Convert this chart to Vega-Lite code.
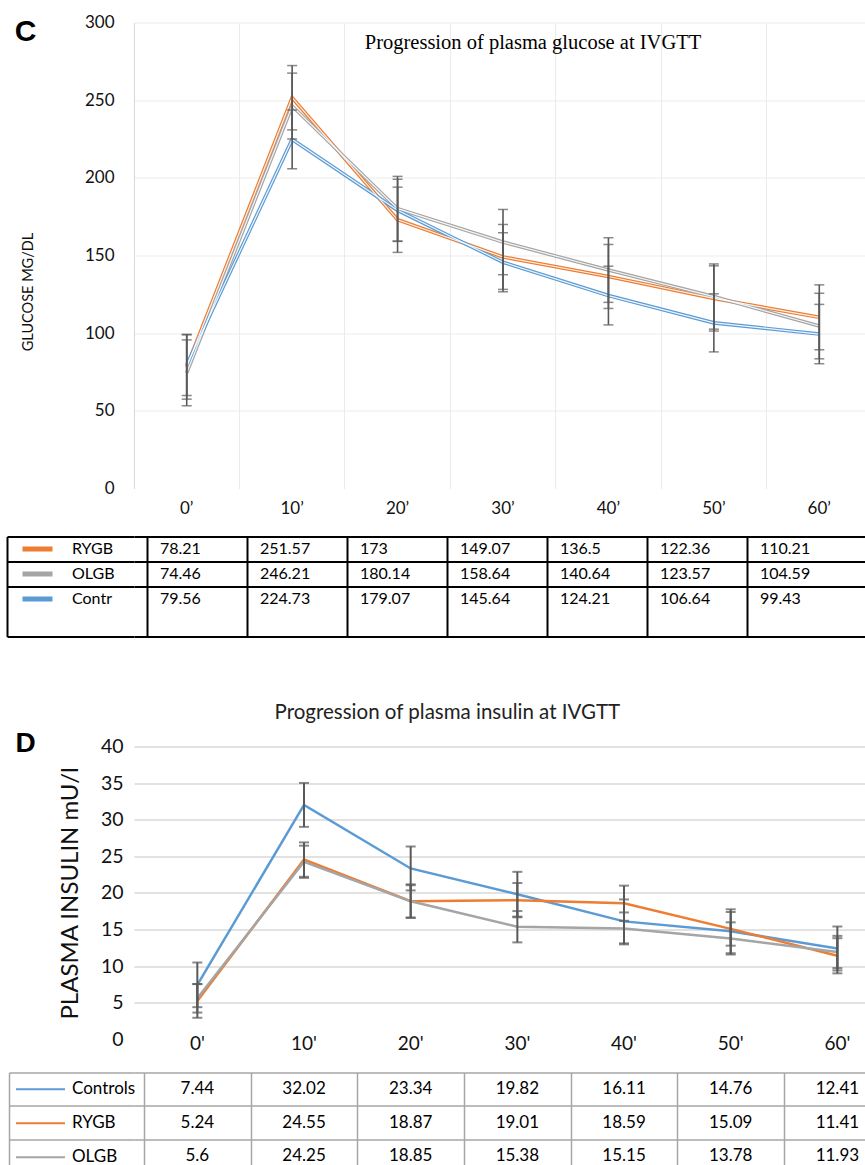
{
  "$schema": "https://vega.github.io/schema/vega-lite/v6.json",
  "background": "white",
  "padding": {"left": 6, "top": 13.5, "right": 0, "bottom": 0},
  "config": {
    "font": "Lato",
    "view": {"stroke": null},
    "axis": {"labelFont": "Lato", "titleFont": "Lato", "labelColor": "#111111", "titleColor": "#111111", "titleFontWeight": "normal"},
    "legend": {"labelFont": "Lato"},
    "title": {"font": "Lato", "fontWeight": "normal"}
  },
  "datasets": {
    "glu": [
      {"t": "0’", "group": "RYGB", "mean": 78.21, "err": 20.7},
      {"t": "10’", "group": "RYGB", "mean": 251.57, "err": 20.7},
      {"t": "20’", "group": "RYGB", "mean": 173, "err": 21},
      {"t": "30’", "group": "RYGB", "mean": 149.07, "err": 20.9},
      {"t": "40’", "group": "RYGB", "mean": 136.5, "err": 20.6},
      {"t": "50’", "group": "RYGB", "mean": 122.36, "err": 21},
      {"t": "60’", "group": "RYGB", "mean": 110.21, "err": 20.9},
      {"t": "0’", "group": "OLGB", "mean": 74.46, "err": 21.2},
      {"t": "10’", "group": "OLGB", "mean": 246.21, "err": 21.2},
      {"t": "20’", "group": "OLGB", "mean": 180.14, "err": 20.8},
      {"t": "30’", "group": "OLGB", "mean": 158.64, "err": 21},
      {"t": "40’", "group": "OLGB", "mean": 140.64, "err": 20.8},
      {"t": "50’", "group": "OLGB", "mean": 123.57, "err": 21},
      {"t": "60’", "group": "OLGB", "mean": 104.59, "err": 21.1},
      {"t": "0’", "group": "Contr", "mean": 79.56, "err": 19.7},
      {"t": "10’", "group": "Contr", "mean": 224.73, "err": 18.9},
      {"t": "20’", "group": "Contr", "mean": 179.07, "err": 20},
      {"t": "30’", "group": "Contr", "mean": 145.64, "err": 19},
      {"t": "40’", "group": "Contr", "mean": 124.21, "err": 18.9},
      {"t": "50’", "group": "Contr", "mean": 106.64, "err": 18.7},
      {"t": "60’", "group": "Contr", "mean": 99.43, "err": 19.1}
    ],
    "ins": [
      {"t": "0'", "group": "Controls", "mean": 7.44, "err": 3.05},
      {"t": "10'", "group": "Controls", "mean": 32.02, "err": 3.0},
      {"t": "20'", "group": "Controls", "mean": 23.34, "err": 3.0},
      {"t": "30'", "group": "Controls", "mean": 19.82, "err": 3.06},
      {"t": "40'", "group": "Controls", "mean": 16.11, "err": 3.0},
      {"t": "50'", "group": "Controls", "mean": 14.76, "err": 3.0},
      {"t": "60'", "group": "Controls", "mean": 12.41, "err": 3.0},
      {"t": "0'", "group": "RYGB", "mean": 5.24, "err": 2.3},
      {"t": "10'", "group": "RYGB", "mean": 24.55, "err": 2.35},
      {"t": "20'", "group": "RYGB", "mean": 18.87, "err": 2.3},
      {"t": "30'", "group": "RYGB", "mean": 19.01, "err": 2.34},
      {"t": "40'", "group": "RYGB", "mean": 18.59, "err": 2.4},
      {"t": "50'", "group": "RYGB", "mean": 15.09, "err": 2.3},
      {"t": "60'", "group": "RYGB", "mean": 11.41, "err": 2.4},
      {"t": "0'", "group": "OLGB", "mean": 5.6, "err": 1.95},
      {"t": "10'", "group": "OLGB", "mean": 24.25, "err": 2.2},
      {"t": "20'", "group": "OLGB", "mean": 18.85, "err": 2.2},
      {"t": "30'", "group": "OLGB", "mean": 15.38, "err": 2.14},
      {"t": "40'", "group": "OLGB", "mean": 15.15, "err": 2.18},
      {"t": "50'", "group": "OLGB", "mean": 13.78, "err": 2.2},
      {"t": "60'", "group": "OLGB", "mean": 11.93, "err": 2.2}
    ]
  },
  "resolve": {"scale": {"color": "independent"}, "legend": {"color": "independent"}},
  "spacing": 65,
  "vconcat": [
    {
      "spacing": 19,
      "resolve": {"scale": {"color": "independent"}, "legend": {"color": "independent"}},
      "vconcat": [
        {
          "width": 738,
          "height": 466,
          "data": {"name": "glu"},
          "title": {"text": "Progression of plasma glucose at IVGTT", "frame": "group", "anchor": "middle", "dx": 30, "offset": -56, "baseline": "alphabetic", "font": "Liberation Serif", "fontSize": 20.5, "fontWeight": "normal", "color": "#000000"},
          "resolve": {"axis": {"y": "independent"}},
          "layer": [
            {
              "mark": {"type": "line", "strokeWidth": 3.6},
              "encoding": {
                "x": {"field": "t", "type": "nominal", "scale": {"type": "band", "domain": ["0’", "10’", "20’", "30’", "40’", "50’", "60’"], "paddingInner": 0, "paddingOuter": 0},
                  "axis": {"title": null, "orient": "bottom", "domain": false, "ticks": false, "grid": true, "gridColor": "#ebebeb", "gridWidth": 1, "bandPosition": 0, "labelAngle": 0, "labelFont": "Lato", "labelFontSize": 17, "labelColor": "#111111", "labelPadding": 12}},
                "y": {"field": "mean", "type": "quantitative", "scale": {"domain": [0, 300], "nice": false},
                  "axis": {"title": "GLUCOSE MG/DL", "values": [0, 50, 100, 150, 200, 250, 300], "grid": true, "gridColor": "#ebebeb", "gridWidth": 1,
                    "gridOpacity": {"condition": {"test": "datum.value === 0", "value": 0}, "value": 1},
                    "domain": true, "domainColor": "#d9d9d9", "domainWidth": 1, "ticks": false,
                    "labelFont": "Lato", "labelFontSize": 17, "labelColor": "#111111", "labelPadding": 20,
                    "titleFont": "Lato", "titleFontSize": 14.5, "titleFontWeight": "normal", "titleColor": "#111111", "titlePadding": 49, "titleY": 269}},
                "color": {"field": "group", "type": "nominal", "scale": {"domain": ["RYGB", "OLGB", "Contr"], "range": ["#ED7D31", "#A5A5A5", "#5B9BD5"]}, "legend": null}
              }
            },
            {
              "mark": {"type": "line", "strokeWidth": 1.2, "color": "#ffffff", "opacity": 0.9},
              "encoding": {
                "x": {"field": "t", "type": "nominal"},
                "y": {"field": "mean", "type": "quantitative", "axis": null},
                "detail": {"field": "group"}
              }
            },
            {
              "mark": {"type": "errorbar", "color": "#595959", "ticks": {"size": 10, "thickness": 1.5}, "rule": {"strokeWidth": 1.6}},
              "encoding": {
                "x": {"field": "t", "type": "nominal"},
                "y": {"field": "mean", "type": "quantitative", "axis": null},
                "yError": {"field": "err"},
                "detail": {"field": "group"}
              }
            },
            {
              "mark": {"type": "point", "size": 0, "opacity": 0},
              "encoding": {
                "x": {"field": "t", "type": "nominal"},
                "y": {"field": "mean", "type": "quantitative",
                  "axis": {"title": "C", "orient": "left", "labels": false, "grid": false, "domain": false, "ticks": false,
                    "titleAngle": 0, "titleAlign": "center", "titleBaseline": "middle", "titleX": -109, "titleY": 9,
                    "titleFont": "Liberation Sans", "titleFontSize": 30, "titleFontWeight": "bold", "titleColor": "#000000"}}
              }
            }
          ]
        },
        {
          "width": 744,
          "height": 100,
          "data": {"name": "glu"},
          "layer": [
            {
              "mark": {"type": "text", "align": "left", "baseline": "middle", "dx": 12, "font": "Lato", "fontSize": 16, "color": "#000000"},
              "encoding": {
                "x": {"field": "t", "type": "nominal", "bandPosition": 0,
                  "scale": {"type": "band", "domain": ["0’", "10’", "20’", "30’", "40’", "50’", "60’"], "paddingInner": 0, "paddingOuter": 0.22, "align": 0.318},
                  "axis": {"orient": "top", "title": null, "labels": false, "ticks": false, "domain": false, "grid": true, "gridColor": "#000000", "gridWidth": 2, "bandPosition": 0, "values": ["0’", "10’", "20’", "30’", "40’", "50’", "60’"]}},
                "y": {"field": "group", "type": "nominal",
                  "scale": {"type": "band", "domain": ["RYGB", "OLGB", "Contr", "_"], "paddingInner": 0, "paddingOuter": 0},
                  "axis": {"orient": "left", "title": null, "labels": false, "offset": 127, "domain": true, "domainColor": "#000000", "domainWidth": 2,
                    "ticks": true, "tickColor": "#000000", "tickWidth": 2, "tickSize": -127, "tickBand": "extent",
                    "grid": true, "gridColor": "#000000", "gridWidth": 2, "values": ["RYGB", "OLGB", "_"]}},
                "text": {"field": "mean", "type": "nominal"}
              }
            },
            {
              "mark": {"type": "point", "shape": "stroke", "size": 0, "strokeWidth": 5},
              "encoding": {
                "x": {"field": "t", "type": "nominal"},
                "y": {"field": "group", "type": "nominal"},
                "color": {"field": "group", "type": "nominal",
                  "scale": {"domain": ["RYGB", "OLGB", "Contr"], "range": ["#ED7D31", "#A5A5A5", "#5B9BD5"]},
                  "legend": {"orient": "none", "legendX": -114, "legendY": 0, "title": null, "symbolType": "stroke", "symbolSize": 900, "symbolStrokeWidth": 5, "symbolOpacity": 1,
                    "labelFont": "Lato", "labelFontSize": 16, "labelColor": "#000000", "labelOffset": 17, "rowPadding": 0, "clipHeight": 25, "padding": 0}}
              }
            }
          ]
        }
      ]
    },
    {
      "spacing": 18,
      "resolve": {"scale": {"color": "independent"}, "legend": {"color": "independent"}},
      "vconcat": [
        {
          "width": 766.7,
          "height": 292.8,
          "data": {"name": "ins"},
          "title": {"text": "Progression of plasma insulin at IVGTT", "frame": "group", "anchor": "middle", "dx": -70, "offset": -10, "baseline": "alphabetic", "font": "Lato", "fontSize": 20.5, "fontWeight": "normal", "color": "#222222"},
          "resolve": {"axis": {"y": "independent"}},
          "layer": [
            {
              "mark": {"type": "line", "strokeWidth": 2.5},
              "encoding": {
                "x": {"field": "t", "type": "nominal", "scale": {"type": "band", "domain": ["0'", "10'", "20'", "30'", "40'", "50'", "60'"], "paddingInner": 0, "paddingOuter": 0.0937, "align": 0.5},
                  "axis": {"title": null, "domain": false, "ticks": false, "grid": false, "labelAngle": 0, "labelFont": "Lato", "labelFontSize": 19, "labelColor": "#111111", "labelBaseline": "middle", "labelPadding": 4}},
                "y": {"field": "mean", "type": "quantitative", "scale": {"domain": [0, 40], "nice": false},
                  "axis": {"title": "PLASMA INSULIN  mU/l", "values": [0, 5, 10, 15, 20, 25, 30, 35, 40], "grid": true, "gridColor": "#d9d9d9", "gridWidth": 1.5,
                    "gridOpacity": {"condition": {"test": "datum.value === 0", "value": 0}, "value": 1},
                    "domain": false, "ticks": false, "labelFont": "Lato", "labelFontSize": 19.5, "labelColor": "#111111", "labelPadding": 11,
                    "titleFont": "Lato", "titleFontSize": 24, "titleFontWeight": "normal", "titleColor": "#111111", "titlePadding": 18}},
                "color": {"field": "group", "type": "nominal", "scale": {"domain": ["Controls", "RYGB", "OLGB"], "range": ["#5B9BD5", "#ED7D31", "#A5A5A5"]}, "legend": null}
              }
            },
            {
              "mark": {"type": "errorbar", "color": "#595959", "ticks": {"size": 10, "thickness": 2}, "rule": {"strokeWidth": 2}},
              "encoding": {
                "x": {"field": "t", "type": "nominal"},
                "y": {"field": "mean", "type": "quantitative", "axis": null},
                "yError": {"field": "err"},
                "detail": {"field": "group"}
              }
            },
            {
              "mark": {"type": "point", "size": 0, "opacity": 0},
              "encoding": {
                "x": {"field": "t", "type": "nominal"},
                "y": {"field": "mean", "type": "quantitative",
                  "axis": {"title": "D", "orient": "left", "labels": false, "grid": false, "domain": false, "ticks": false,
                    "titleAngle": 0, "titleAlign": "center", "titleBaseline": "middle", "titleX": -109, "titleY": -3,
                    "titleFont": "Liberation Sans", "titleFontSize": 28, "titleFontWeight": "bold", "titleColor": "#000000"}}
              }
            }
          ]
        },
        {
          "width": 766.7,
          "height": 100,
          "data": {"name": "ins"},
          "layer": [
            {
              "mark": {"type": "text", "align": "center", "baseline": "middle", "font": "Lato", "fontSize": 17, "color": "#000000"},
              "encoding": {
                "x": {"field": "t", "type": "nominal",
                  "scale": {"type": "band", "domain": ["0'", "10'", "20'", "30'", "40'", "50'", "60'"], "paddingInner": 0, "paddingOuter": 0.0937, "align": 0.5},
                  "axis": {"orient": "top", "title": null, "labels": false, "ticks": false, "domain": false, "grid": true, "gridColor": "#a6a6a6", "gridWidth": 1.5, "tickBand": "extent"}},
                "y": {"field": "group", "type": "nominal",
                  "scale": {"type": "band", "domain": ["Controls", "RYGB", "OLGB"], "paddingInner": 0, "paddingOuter": 0},
                  "axis": {"orient": "left", "title": null, "labels": false, "offset": 125, "domain": true, "domainColor": "#a6a6a6", "domainWidth": 1.5,
                    "ticks": true, "tickColor": "#a6a6a6", "tickWidth": 1.5, "tickSize": -125, "tickBand": "extent",
                    "grid": true, "gridColor": "#a6a6a6", "gridWidth": 1.5}},
                "text": {"field": "mean", "type": "nominal"}
              }
            },
            {
              "mark": {"type": "point", "shape": "stroke", "size": 0, "strokeWidth": 2},
              "encoding": {
                "x": {"field": "t", "type": "nominal"},
                "y": {"field": "group", "type": "nominal"},
                "color": {"field": "group", "type": "nominal",
                  "scale": {"domain": ["Controls", "RYGB", "OLGB"], "range": ["#5B9BD5", "#ED7D31", "#A5A5A5"]},
                  "legend": {"orient": "none", "legendX": -119, "legendY": 0, "title": null, "symbolType": "stroke", "symbolSize": 2401, "symbolStrokeWidth": 2, "symbolOpacity": 1,
                    "labelFont": "Lato", "labelFontSize": 17, "labelColor": "#000000", "labelOffset": 6, "rowPadding": 0, "clipHeight": 33.33, "padding": 0}}
              }
            }
          ]
        }
      ]
    }
  ]
}
